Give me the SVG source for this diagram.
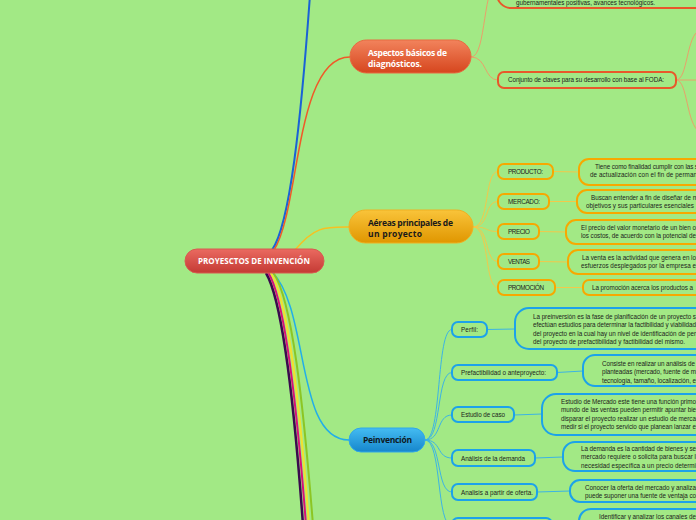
<svg xmlns="http://www.w3.org/2000/svg" width="696" height="520" viewBox="0 0 696 520">
<defs>
<linearGradient id="gRed" x1="0" y1="0" x2="0" y2="1"><stop offset="0" stop-color="#ea6a60"/><stop offset="1" stop-color="#c43a34"/></linearGradient>
<linearGradient id="gOr" x1="0" y1="0" x2="0" y2="1"><stop offset="0" stop-color="#f2835c"/><stop offset="1" stop-color="#d6461e"/></linearGradient>
<linearGradient id="gYe" x1="0" y1="0" x2="0" y2="1"><stop offset="0" stop-color="#f9c43a"/><stop offset="1" stop-color="#e09600"/></linearGradient>
<linearGradient id="gBl" x1="0" y1="0" x2="0" y2="1"><stop offset="0" stop-color="#44bcf2"/><stop offset="1" stop-color="#1686cc"/></linearGradient>
<style>
.t{font-family:"Liberation Sans",Arial,sans-serif;font-size:6.3px;fill:#1c1c1c}
.tb{font-family:"Open Sans","Liberation Sans",sans-serif;font-weight:bold}
.bo{fill:none;stroke:#e8582a;stroke-width:2}
.by{fill:none;stroke:#f7a800;stroke-width:2}
.bb{fill:none;stroke:#1ca2ea;stroke-width:2}
.co{fill:none;stroke:#e9a06a;stroke-width:1}
.cy{fill:none;stroke:#f2c94a;stroke-width:1}
.cb{fill:none;stroke:#3cb4e4;stroke-width:1}
</style>
</defs>
<rect width="696" height="520" fill="#a2e985"/>
<g id="connectors">
<path d="M272,250 C290,225 301,120 310,-5" fill="none" stroke="#1a62d6" stroke-width="2"/>
<path d="M274,250 C300,210 295,57 350,57" fill="none" stroke="#f05a28" stroke-width="1.5"/>
<path d="M295,250 C315,226 325,227 349,227" fill="none" stroke="#f8c020" stroke-width="1.5"/>
<path d="M272,272 C310,310 295,440 349,440" fill="none" stroke="#22aee8" stroke-width="1.5"/>
<path d="M266,273 C282,300 294,400 303,525" fill="none" stroke="#3a0a4e" stroke-width="2.5"/>
<path d="M268.5,273 C285,300 296.5,400 306,525" fill="none" stroke="#d8107a" stroke-width="2"/>
<path d="M271,273 C288,300 299.5,400 309,525" fill="none" stroke="#f2e030" stroke-width="2"/>
<path d="M273.5,273 C292,300 303,400 313,525" fill="none" stroke="#8cc624" stroke-width="2"/>
<path class="co" d="M471,57 C487,57 482,-20 500,-20"/>
<path class="co" d="M471,57 C487,57 484,80 498,80"/>
<path class="co" d="M676,80 C688,80 686,35 700,30"/>
<path class="co" d="M676,80 L700,80"/>
<path class="co" d="M676,80 C688,80 686,125 700,132"/>
<path class="cy" d="M473,227 C490,227 484,171.5 498,171.5"/>
<path class="cy" d="M473,227 C490,227 484,201.5 498,201.5"/>
<path class="cy" d="M473,227 C490,227 484,231.5 498,231.5"/>
<path class="cy" d="M473,227 C490,227 484,261.5 498,261.5"/>
<path class="cy" d="M473,227 C490,227 484,287.5 498,287.5"/>
<path class="cy" d="M553,171.5 L579,172"/>
<path class="cy" d="M549,201.5 L577,201.5"/>
<path class="cy" d="M539,231.5 L566,232"/>
<path class="cy" d="M539,261.5 L568,262"/>
<path class="cy" d="M555,287.5 L583,287.5"/>
<path class="cb" d="M425,440 C442,440 436,329.5 452,329.5"/>
<path class="cb" d="M425,440 C442,440 436,372.5 452,372.5"/>
<path class="cb" d="M425,440 C442,440 436,415 452,415"/>
<path class="cb" d="M425,440 C442,440 436,458 452,458"/>
<path class="cb" d="M425,440 C442,440 436,492 452,492"/>
<path class="cb" d="M425,440 C442,440 436,526 452,526"/>
<path class="cb" d="M487,329.5 L515,329"/>
<path class="cb" d="M557,372.5 L583,371"/>
<path class="cb" d="M514,415 L542,414"/>
<path class="cb" d="M535,458 L563,457"/>
<path class="cb" d="M537,492 L570,491"/>
<path class="cb" d="M552,526 L579,526"/>
</g>
<g id="central">
<rect x="185" y="249" width="139" height="24" rx="12" fill="url(#gRed)" stroke="#d85a50" stroke-width="1"/>
<text x="198" y="264" textLength="112" class="tb" font-size="8" fill="#ffffff">PROYESCTOS DE INVENCIÓN</text>
</g>
<g id="aspectos">
<rect x="350" y="40" width="121" height="33" rx="16.5" fill="url(#gOr)" stroke="#e86a40" stroke-width="1"/>
<text x="368" y="55.5" textLength="79" class="tb" font-size="8.5" fill="#ffffff">Aspectos básicos de</text>
<text x="368" y="66.5" textLength="54" class="tb" font-size="8.5" fill="#ffffff">diagnósticos.</text>
</g>
<g id="aspectos-top">
<rect class="bo" x="497" y="-40" width="260" height="48" rx="14"/>
<text class="t" x="516" y="4.5" textLength="139">gubernamentales positivas, avances tecnológicos.</text>
</g>
<g id="conjunto">
<rect class="bo" x="498" y="72" width="178" height="16" rx="6"/>
<text class="t" x="508" y="82.2" textLength="156">Conjunto de claves para su desarrollo con base al FODA:</text>
</g>
<g id="aereas">
<rect x="349" y="210" width="124" height="33" rx="16.5" fill="url(#gYe)" stroke="#f0b020" stroke-width="1"/>
<text x="368" y="226" textLength="85" class="tb" font-size="8.5" fill="#1a1a1a">Aéreas principales de</text>
<text x="368" y="236.5" textLength="54" class="tb" font-size="8.5" fill="#1a1a1a">un proyecto</text>
</g>
<g id="producto">
<rect class="by" x="498" y="164" width="55" height="15" rx="6"/>
<text class="t" x="508" y="174" textLength="35">PRODUCTO:</text>
</g>
<g id="producto-d">
<rect class="by" x="579" y="159" width="200" height="26" rx="10"/>
<text class="t" x="595" y="169.2" textLength="103">Tiene como finalidad cumplir con las s</text>
<text class="t" x="590" y="177.2" textLength="107">de actualización con el fin de perman</text>
</g>
<g id="mercado">
<rect class="by" x="498" y="194" width="51" height="15" rx="6"/>
<text class="t" x="508" y="204" textLength="32">MERCADO:</text>
</g>
<g id="mercado-d">
<rect class="by" x="577" y="190" width="200" height="23" rx="10"/>
<text class="t" x="591" y="199.5" textLength="107">Buscan entender a fin de diseñar de m</text>
<text class="t" x="586" y="207.5" textLength="108">objetivos y sus particulares esenciales</text>
</g>
<g id="precio">
<rect class="by" x="498" y="224" width="41" height="15" rx="6"/>
<text class="t" x="508" y="234" textLength="22">PRECIO</text>
</g>
<g id="precio-d">
<rect class="by" x="566" y="220" width="200" height="24" rx="10"/>
<text class="t" x="581" y="229.5" textLength="115">El precio del valor monetario de un bien o</text>
<text class="t" x="581" y="237.5" textLength="115">los costos, de acuerdo con la potencial de</text>
</g>
<g id="ventas">
<rect class="by" x="498" y="254" width="41" height="15" rx="6"/>
<text class="t" x="508" y="264" textLength="22">VENTAS</text>
</g>
<g id="ventas-d">
<rect class="by" x="568" y="250" width="200" height="24" rx="10"/>
<text class="t" x="582" y="259.5" textLength="114">La venta es la actividad que genera en lo</text>
<text class="t" x="581" y="267.5" textLength="115">esfuerzos desplegados por la empresa e</text>
</g>
<g id="promocion">
<rect class="by" x="498" y="280" width="57" height="15" rx="6"/>
<text class="t" x="508" y="290" textLength="36">PROMOCIÓN</text>
</g>
<g id="promocion-d">
<rect class="by" x="583" y="280" width="200" height="15" rx="6"/>
<text class="t" x="592" y="290" textLength="101">La promoción acerca los productos a</text>
</g>
<g id="peinvencion">
<rect x="349" y="428" width="76" height="24" rx="12" fill="url(#gBl)" stroke="#30a8e8" stroke-width="1"/>
<text x="363" y="443" textLength="49" class="tb" font-size="8.5" fill="#0e1a24">Peinvención</text>
</g>
<g id="perfil">
<rect class="bb" x="452" y="322" width="35" height="15" rx="6"/>
<text class="t" x="461" y="332" textLength="17">Perfil:</text>
</g>
<g id="perfil-d">
<rect class="bb" x="515" y="308" width="260" height="41" rx="14"/>
<text class="t" x="533" y="318.5" textLength="163">La preinversión es la fase de planificación de un proyecto s</text>
<text class="t" x="533" y="327" textLength="163">efectúan estudios para determinar la factibilidad y viabilidad</text>
<text class="t" x="533" y="335.5" textLength="163">del proyecto en la cual hay un nivel de identificación de per</text>
<text class="t" x="533" y="344" textLength="152">del proyecto de prefactibilidad y factibilidad del mismo.</text>
</g>
<g id="prefact">
<rect class="bb" x="452" y="365" width="105" height="15" rx="6"/>
<text class="t" x="461" y="375" textLength="85">Prefactibilidad o anteproyecto:</text>
</g>
<g id="prefact-d">
<rect class="bb" x="583" y="355" width="200" height="31" rx="12"/>
<text class="t" x="602" y="365.5" textLength="93">Consiste en realizar un análisis de</text>
<text class="t" x="602" y="374" textLength="94">planteadas (mercado, fuente de m</text>
<text class="t" x="602" y="382.5" textLength="94">tecnología, tamaño, localización, e</text>
</g>
<g id="estudio">
<rect class="bb" x="452" y="407" width="62" height="15" rx="6"/>
<text class="t" x="461" y="417" textLength="44">Estudio de caso</text>
</g>
<g id="estudio-d">
<rect class="bb" x="542" y="394" width="220" height="41" rx="14"/>
<text class="t" x="561" y="403.5" textLength="135">Estudio de Mercado este tiene una función primo</text>
<text class="t" x="561" y="412" textLength="135">mundo de las ventas pueden permitir apuntar bie</text>
<text class="t" x="561" y="420.5" textLength="135">disparar el proyecto realizar un estudio de merca</text>
<text class="t" x="561" y="429" textLength="135">medir si el proyecto servicio que planean lanzar e</text>
</g>
<g id="demanda">
<rect class="bb" x="452" y="450" width="83" height="16" rx="6"/>
<text class="t" x="461" y="460.5" textLength="64">Análisis de la demanda</text>
</g>
<g id="demanda-d">
<rect class="bb" x="563" y="442" width="200" height="29" rx="12"/>
<text class="t" x="581" y="450.5" textLength="115">La demanda es la cantidad de bienes y se</text>
<text class="t" x="581" y="459" textLength="115">mercado requiere o solicita para buscar l</text>
<text class="t" x="581" y="467.5" textLength="115">necesidad específica a un precio determi</text>
</g>
<g id="oferta">
<rect class="bb" x="452" y="484" width="85" height="16" rx="6"/>
<text class="t" x="461" y="494.5" textLength="72">Analisis a partir de oferta.</text>
</g>
<g id="oferta-d">
<rect class="bb" x="570" y="480" width="200" height="22" rx="10"/>
<text class="t" x="585" y="489.5" textLength="111">Conocer la oferta del mercado y analiza</text>
<text class="t" x="585" y="497.5" textLength="111">puede suponer una fuente de ventaja co</text>
</g>
<g id="canales">
<rect class="bb" x="452" y="518" width="100" height="16" rx="6"/>
</g>
<g id="canales-d">
<rect class="bb" x="579" y="509" width="200" height="30" rx="12"/>
<text class="t" x="599" y="519" textLength="97">Identificar y analizar los canales de</text>
</g>
</svg>
